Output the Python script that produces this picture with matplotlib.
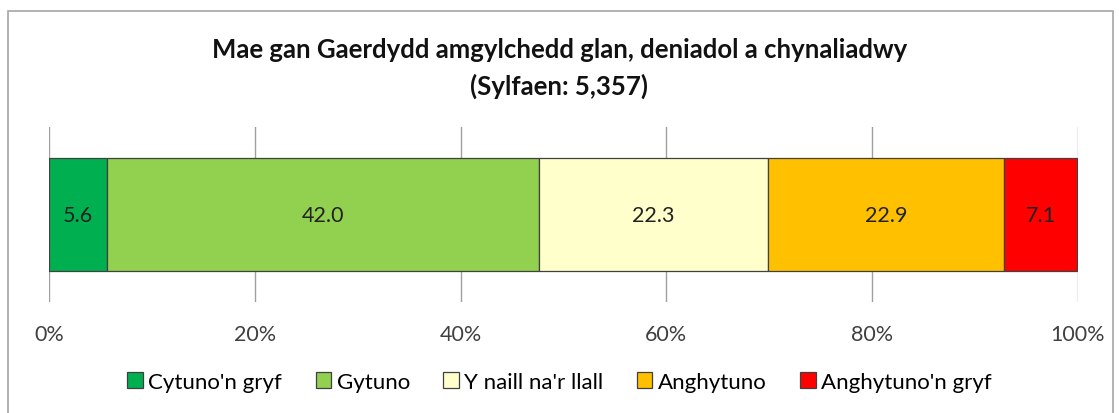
import matplotlib
matplotlib.use("Agg")
import matplotlib.pyplot as plt
from matplotlib.patches import Rectangle

categories = ["Cytuno'n gryf", "Gytuno", "Y naill na'r llall", "Anghytuno", "Anghytuno'n gryf"]
values = [5.6, 42.0, 22.3, 22.9, 7.1]
colors = ["#00B050", "#92D050", "#FFFFCC", "#FFC000", "#FF0000"]
xticks = [0, 20, 40, 60, 80, 100]
xticklabels = ["0%", "20%", "40%", "60%", "80%", "100%"]
title_line1 = "Mae gan Gaerdydd amgylchedd glan, deniadol a chynaliadwy"
title_line2 = "(Sylfaen: 5,357)"

plt.rcParams['font.family'] = ['Lato', 'DejaVu Sans']

W, H = 1119, 414
fig = plt.figure(figsize=(W/100, H/100), dpi=100)

# outer chart frame
fig.patches.append(Rectangle((8/W, -0.05), (1113-8)/W, (H-12)/H + 0.05,
                             transform=fig.transFigure, fill=False,
                             edgecolor="#A6A6A6", linewidth=1.2))

ax = fig.add_axes([49/W, 1-303/H, (1078-49)/W, (303-128)/H])
left = 0
for cat, v, c in zip(categories, values, colors):
    ax.barh(0, v, left=left, height=0.65, color=c, edgecolor="#404040",
            linewidth=0.9, label=cat, zorder=3)
    ax.text(left + v/2, 0, f"{v:.1f}", ha="center", va="center",
            fontsize=15.5, color="#222222", zorder=4)
    left += v

ax.set_xlim(0, 100)
ax.set_ylim(-0.5, 0.5)
ax.set_xticks(xticks)
ax.set_xticklabels(xticklabels, fontsize=15.5, color="#404040")
ax.tick_params(axis="x", length=0, pad=16)
ax.set_yticks([])
ax.grid(axis="x", color="#A0A0A0", linewidth=1, zorder=0)
for s in ax.spines.values():
    s.set_visible(False)

fig.text(0.5, 1-50/H, title_line1,
         ha="center", va="center", fontsize=18.5, fontweight="bold", color="#111111")
fig.text(0.5, 1-86/H, title_line2,
         ha="center", va="center", fontsize=18.5, fontweight="bold", color="#111111")

handles, labels = ax.get_legend_handles_labels()
fig.legend(handles, labels, loc="center", bbox_to_anchor=(0.5, 1-383/H),
           ncol=5, frameon=False, fontsize=16, handlelength=0.7,
           handleheight=0.7, handletextpad=0.25, columnspacing=1.5)

fig.savefig("out.png", dpi=100)
